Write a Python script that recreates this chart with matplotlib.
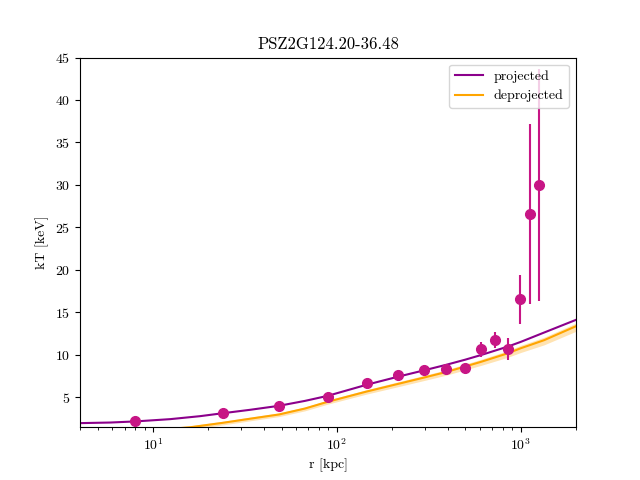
import numpy as np
import matplotlib
matplotlib.use("Agg")
import matplotlib.pyplot as plt

plt.rcParams['font.family'] = 'serif'
plt.rcParams['font.serif'] = ['cmr10', 'DejaVu Serif']
plt.rcParams['mathtext.fontset'] = 'cm'
plt.rcParams['axes.formatter.use_mathtext'] = True

# measured temperature profile
r_data = [8.0, 24.0, 48.4, 89.3, 145.5, 215.0, 298.0, 393.0, 498.0, 608.0, 725.0, 849.0, 988.0, 1120.0, 1253.0]
kT_data = [2.13, 3.11, 3.94, 5.04, 6.62, 7.55, 8.19, 8.30, 8.40, 10.63, 11.70, 10.63, 16.53, 26.6, 30.0]
kT_err = [0.15, 0.2, 0.25, 0.25, 0.3, 0.3, 0.35, 0.35, 0.45, 0.9, 0.95, 1.3, 2.9, 10.6, 13.7]

# projected model
r_proj = [4.0, 5.84, 8.0, 12.4, 18.0, 24.0, 33.7, 48.4, 67.0, 89.3, 145.0, 215.0, 298.0, 393.0, 498.0, 608.0, 849.0, 1000.0, 1340.0, 2000.0]
kT_proj = [1.93, 2.0, 2.13, 2.4, 2.75, 3.1, 3.5, 3.97, 4.55, 5.15, 6.45, 7.4, 8.15, 8.8, 9.4, 9.95, 10.94, 11.5, 12.6, 14.1]

# deprojected model with uncertainty band
r_dep = [8.0, 10.0, 12.4, 16.0, 24.0, 33.7, 48.4, 67.0, 89.3, 145.0, 215.0, 298.0, 393.0, 498.0, 608.0, 849.0, 1000.0, 1340.0, 2000.0]
kT_dep = [0.9, 1.05, 1.25, 1.45, 1.97, 2.45, 2.95, 3.65, 4.45, 5.65, 6.55, 7.3, 7.95, 8.6, 9.15, 10.15, 10.75, 11.7, 13.35]
kT_dep_lo = [0.7, 0.85, 1.05, 1.2, 1.72, 2.2, 2.7, 3.38, 4.17, 5.35, 6.22, 6.95, 7.58, 8.2, 8.73, 9.68, 10.25, 11.15, 12.75]
kT_dep_hi = [1.05, 1.2, 1.4, 1.62, 2.15, 2.63, 3.13, 3.83, 4.65, 5.87, 6.8, 7.55, 8.22, 8.88, 9.45, 10.47, 11.1, 12.05, 13.72]

fig, ax = plt.subplots(figsize=(6.4, 4.8), dpi=100)

ax.plot(r_proj, kT_proj, color='darkmagenta', lw=1.5, label='projected')
ax.plot(r_dep, kT_dep, color='orange', lw=1.5, label='deprojected')
ax.fill_between(r_dep, kT_dep_lo, kT_dep_hi, color='orange', alpha=0.3, lw=0)
ax.errorbar(r_data, kT_data, yerr=kT_err, fmt='o', color='mediumvioletred',
            markersize=7, elinewidth=1.5, zorder=5)

ax.set_xscale('log')
ax.set_xlim(4, 2000)
ax.set_ylim(1.45, 45)
ax.set_xlabel('r [kpc]')
ax.set_ylabel('kT [keV]')
ax.set_title('PSZ2G124.20-36.48')
ax.legend(loc='upper right')

fig.savefig('out.png', dpi=100)
